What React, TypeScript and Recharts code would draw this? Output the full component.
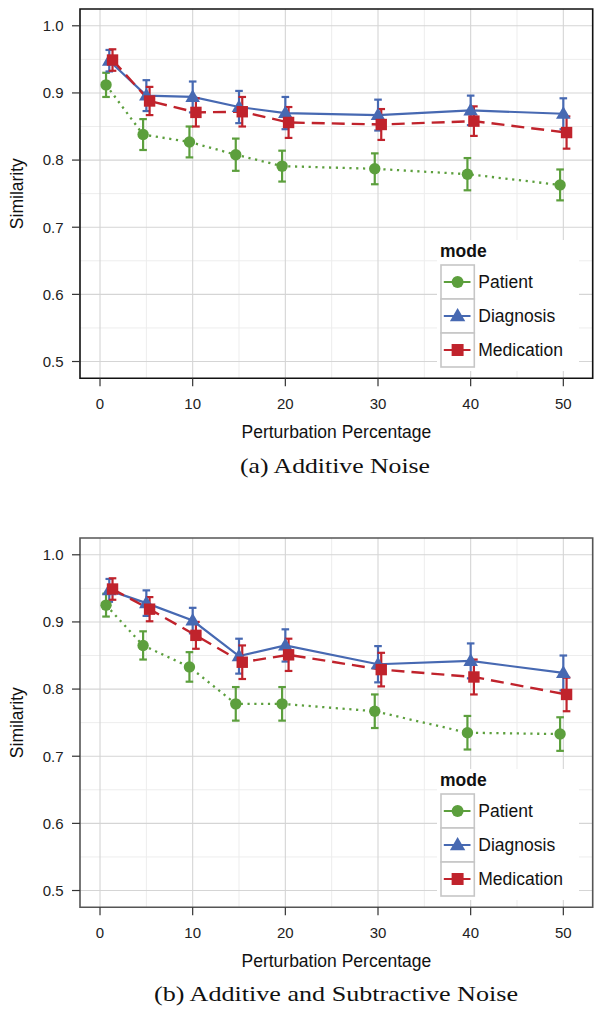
import React from 'react';
import { ComposedChart, Line, XAxis, YAxis, CartesianGrid, ErrorBar, ReferenceArea, Legend } from 'recharts';

const percentages = [1, 5, 10, 15, 20, 30, 40, 50];
const modes = ['Patient', 'Diagnosis', 'Medication'];
const xTicks = [0, 10, 20, 30, 40, 50];
const xMinorTicks = [5, 15, 25, 35, 45];
const yTicks = [0.5, 0.6, 0.7, 0.8, 0.9, 1.0];
const yMinorTicks = [0.55, 0.65, 0.75, 0.85, 0.95];

// (a) Additive Noise
const addPatient = [0.912, 0.838, 0.827, 0.808, 0.791, 0.787, 0.779, 0.763];
const addPatientErr = [0.018, 0.023, 0.023, 0.024, 0.023, 0.023, 0.024, 0.023];
const addDiagnosis = [0.948, 0.896, 0.894, 0.879, 0.870, 0.867, 0.874, 0.869];
const addDiagnosisErr = [0.016, 0.023, 0.023, 0.024, 0.024, 0.023, 0.022, 0.023];
const addMedication = [0.949, 0.888, 0.871, 0.872, 0.856, 0.853, 0.858, 0.841];
const addMedicationErr = [0.016, 0.021, 0.021, 0.022, 0.023, 0.023, 0.022, 0.024];

// (b) Additive and Subtractive Noise
const subPatient = [0.925, 0.865, 0.833, 0.778, 0.778, 0.767, 0.735, 0.733];
const subPatientErr = [0.017, 0.021, 0.022, 0.025, 0.025, 0.025, 0.025, 0.025];
const subDiagnosis = [0.947, 0.928, 0.902, 0.849, 0.865, 0.837, 0.842, 0.824];
const subDiagnosisErr = [0.017, 0.019, 0.019, 0.026, 0.024, 0.027, 0.026, 0.026];
const subMedication = [0.949, 0.919, 0.880, 0.840, 0.851, 0.829, 0.818, 0.792];
const subMedicationErr = [0.016, 0.018, 0.020, 0.025, 0.024, 0.025, 0.026, 0.025];

const captionA = '(a) Additive Noise';
const captionB = '(b) Additive and Subtractive Noise';

const SANS = '"Liberation Sans", Arial, Helvetica, sans-serif';
const SERIF = '"Liberation Serif", "DejaVu Serif", serif';

const STYLE: Record<string, { color: string; dash?: string; shape: string; width: number; dodge: number }> = {
  Patient: { color: '#5c9f3d', dash: '2.2 4.6', shape: 'circle', width: 2.3, dodge: -0.35 },
  Diagnosis: { color: '#4769b2', dash: undefined, shape: 'triangle', width: 2.2, dodge: 0 },
  Medication: { color: '#c0232c', dash: '13 7', shape: 'square', width: 2.4, dodge: 0.35 },
};

const X_DOMAIN: [number, number] = [-2.16, 53.17];
const Y_DOMAIN: [number, number] = [0.475, 1.025];

function Marker({ shape, cx, cy, color, s = 1 }: any) {
  if (cx == null || cy == null) return null;
  if (shape === 'circle') return <circle cx={cx} cy={cy} r={5.7 * s} fill={color} />;
  if (shape === 'triangle') {
    const w = 7.3 * s;
    return (
      <polygon
        points={`${cx},${cy - 7.6 * s} ${cx + w},${cy + 5 * s} ${cx - w},${cy + 5 * s}`}
        fill={color}
      />
    );
  }
  const h = 5.7 * s;
  return <rect x={cx - h} y={cy - h} width={2 * h} height={2 * h} fill={color} />;
}

function LegendBox() {
  const rowH = 34;
  return (
    <div style={{ width: 142, height: 131, background: '#fff', position: 'relative', fontFamily: SANS }}>
      <div
        style={{
          position: 'absolute',
          left: 3.3,
          top: 0,
          height: 23,
          lineHeight: '23px',
          fontSize: 17.5,
          fontWeight: 'bold',
          color: '#111',
        }}
      >
        mode
      </div>
      <svg width={40} height={3 * rowH + 4} style={{ position: 'absolute', left: 2, top: 23 }}>
        {modes.map((m, i) => {
          const st = STYLE[m];
          const cy = 2 + i * rowH + rowH / 2;
          return (
            <g key={m}>
              <rect x={2} y={2 + i * rowH} width={33.3} height={rowH} fill="#fff" stroke="#c6c6c6" strokeWidth={1.6} />
              <line x1={4.8} x2={31.5} y1={cy} y2={cy} stroke={st.color} strokeWidth={2} />
              <Marker shape={st.shape} cx={18.6} cy={cy} color={st.color} s={1.05} />
            </g>
          );
        })}
      </svg>
      {modes.map((m, i) => (
        <div
          key={m}
          style={{
            position: 'absolute',
            left: 41.6,
            top: 25 + i * rowH,
            height: rowH,
            lineHeight: `${rowH}px`,
            fontSize: 17.5,
            color: '#111',
          }}
        >
          {m}
        </div>
      ))}
    </div>
  );
}

function buildSeries(values: number[], errs: number[], dodge: number) {
  return percentages.map((p, i) => ({ x: p + dodge, y: values[i], err: errs[i] }));
}

function Panel({ series, borderColor }: { series: Record<string, { values: number[]; errs: number[] }>; borderColor: string }) {
  return (
    <ComposedChart width={602} height={480} margin={{ top: 9, right: 9.3, bottom: 41.7, left: 0 }}>
      <CartesianGrid
        horizontalValues={yMinorTicks}
        verticalValues={xMinorTicks}
        stroke="#ededed"
        strokeWidth={1}
      />
      <CartesianGrid horizontalValues={yTicks} verticalValues={xTicks} stroke="#d5d5d5" strokeWidth={1.1} />
      <XAxis
        dataKey="x"
        type="number"
        domain={X_DOMAIN}
        allowDataOverflow
        ticks={xTicks}
        interval={0}
        height={60}
        axisLine={false}
        tickSize={8}
        tickMargin={12}
        tickLine={{ stroke: '#333', strokeWidth: 1.2 }}
        tick={{ fill: '#222', fontSize: 15, fontFamily: SANS }}
        label={(props: any) => {
          const vb = props.viewBox;
          return (
            <text
              x={vb.x + vb.width / 2}
              y={vb.y + 54}
              textAnchor="middle"
              dominantBaseline="central"
              fontSize={17.5}
              fontFamily={SANS}
              fill="#111"
            >
              Perturbation Percentage
            </text>
          );
        }}
      />
      <YAxis
        type="number"
        domain={Y_DOMAIN}
        allowDataOverflow
        ticks={yTicks}
        interval={0}
        width={80}
        axisLine={false}
        tickSize={8}
        tickMargin={8.5}
        tickLine={{ stroke: '#333', strokeWidth: 1.2 }}
        tick={{ fill: '#222', fontSize: 15, fontFamily: SANS }}
        tickFormatter={(v: number) => v.toFixed(1)}
        label={(props: any) => {
          const vb = props.viewBox;
          const cx = 17;
          const cy = vb.y + vb.height / 2;
          return (
            <text
              x={cx}
              y={cy}
              transform={`rotate(-90 ${cx} ${cy})`}
              textAnchor="middle"
              dominantBaseline="central"
              fontSize={17.5}
              fontFamily={SANS}
              fill="#111"
            >
              Similarity
            </text>
          );
        }}
      />
      {modes.map((m) => {
        const st = STYLE[m];
        const data = buildSeries(series[m].values, series[m].errs, st.dodge);
        return (
          <Line
            key={m}
            data={data}
            dataKey="y"
            name={m}
            type="linear"
            stroke={st.color}
            strokeWidth={st.width}
            strokeDasharray={st.dash}
            isAnimationActive={false}
            activeDot={false}
            dot={(p: any) => <Marker key={`${m}-${p.index}`} shape={st.shape} cx={p.cx} cy={p.cy} color={st.color} />}
          >
            <ErrorBar dataKey="err" direction="y" width={3.8} stroke={st.color} strokeWidth={2.2} isAnimationActive={false} />
          </Line>
        );
      })}
      <ReferenceArea
        x1={X_DOMAIN[0]}
        x2={X_DOMAIN[1]}
        y1={Y_DOMAIN[0]}
        y2={Y_DOMAIN[1]}
        fill="none"
        fillOpacity={0}
        stroke={borderColor}
        strokeWidth={1.6}
        ifOverflow="visible"
      />
      <Legend
        layout="horizontal"
        verticalAlign="middle"
        align="center"
        content={() => <LegendBox />}
        wrapperStyle={{ position: 'absolute', left: 436.7, top: 240, width: 142, height: 131 }}
      />
    </ComposedChart>
  );
}

export default function App() {
  const seriesA = {
    Patient: { values: addPatient, errs: addPatientErr },
    Diagnosis: { values: addDiagnosis, errs: addDiagnosisErr },
    Medication: { values: addMedication, errs: addMedicationErr },
  };
  const seriesB = {
    Patient: { values: subPatient, errs: subPatientErr },
    Diagnosis: { values: subDiagnosis, errs: subDiagnosisErr },
    Medication: { values: subMedication, errs: subMedicationErr },
  };
  return (
    <div style={{ position: 'absolute', left: 0, top: 0, width: 602, height: 1016, background: '#fff', overflow: 'hidden' }}>
      <div style={{ position: 'absolute', left: 0, top: 0 }}>
        <Panel series={seriesA} borderColor="#111" />
      </div>
      <div style={{ position: 'absolute', left: 0, top: 529.4 }}>
        <Panel series={seriesB} borderColor="#555" />
      </div>
      <svg width={602} height={1016} style={{ position: 'absolute', left: 0, top: 0, pointerEvents: 'none' }}>
        <text
          x={335}
          y={472.5}
          textAnchor="middle"
          fontFamily={SERIF}
          fontSize={22}
          fill="#111"
          textLength={190}
          lengthAdjust="spacingAndGlyphs"
        >
          {captionA}
        </text>
        <text
          x={336}
          y={1001}
          textAnchor="middle"
          fontFamily={SERIF}
          fontSize={22}
          fill="#111"
          textLength={364}
          lengthAdjust="spacingAndGlyphs"
        >
          {captionB}
        </text>
      </svg>
    </div>
  );
}
